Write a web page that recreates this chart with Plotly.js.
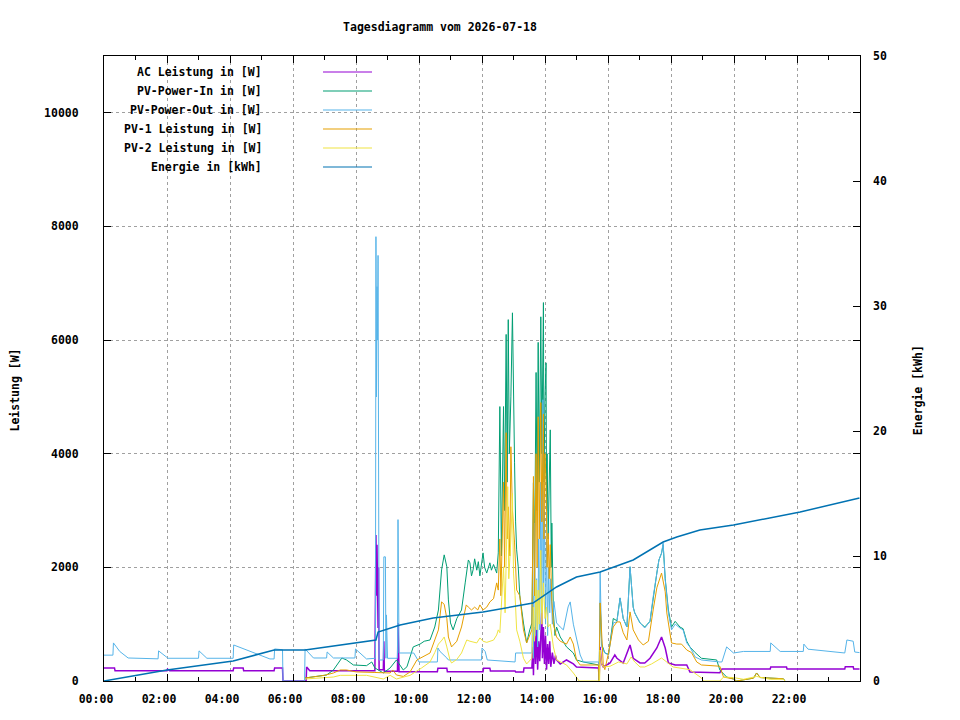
<!DOCTYPE html>
<html>
<head>
<meta charset="utf-8">
<script src="https://cdn.plot.ly/plotly-3.0.1.min.js"></script>
<style>
  body { margin: 0; background: #fff; }
  #chart { width: 960px; height: 720px; }
</style>
</head>
<body>
<div id="chart"></div>
<script>
var day = "2026-07-18";

var xTickLabels = ["00:00", "02:00", "04:00", "06:00", "08:00", "10:00",
                   "12:00", "14:00", "16:00", "18:00", "20:00", "22:00"];
var leftTicks = [0, 2000, 4000, 6000, 8000, 10000];
var rightTicks = [0, 10, 20, 30, 40, 50];

var seriesNames = ["AC Leistung in [W]", "PV-Power-In in [W]", "PV-Power-Out in [W]",
                   "PV-1 Leistung in [W]", "PV-2 Leistung in [W]", "Energie in [kWh]"];
var seriesColors = ["#9400d3", "#009e73", "#56b4e9", "#e69f00", "#f0e442", "#0072b2"];

// AC Leistung [W]
var acTimes = ["00:00","00:20","00:21","02:00","02:01","02:05","04:06","04:07","04:25","04:26",
               "05:24","05:25","05:40","05:41","06:25","06:26","06:32","08:36","08:38","08:39",
               "08:40","08:42","08:43","08:44","08:52","08:53","08:54","09:19","09:20","09:21",
               "09:22","10:35","10:36","10:53","10:54","12:02","12:03","12:15","12:16","13:03",
               "13:04","13:19","13:20","13:35","13:37","13:38","13:40","13:42","13:44","13:46",
               "13:48","13:50","13:52","13:54","13:55","13:57","13:59","14:01","14:03","14:05",
               "14:07","14:09","14:11","14:14","14:17","14:20","14:22","14:29","14:41","14:54",
               "15:00","15:42","15:43","15:45","15:48","15:51","16:04","16:13","16:17","16:29",
               "16:42","16:48","17:01","17:10","17:20","17:33","17:42","17:49","17:55","18:08",
               "18:30","18:36","19:33","19:37","21:09","21:10","21:40","21:41","23:31","23:32",
               "23:47","23:48","23:59"];
var acValues = [230,230,181,181,210,181,181,230,230,181,
                181,230,230,0,0,247,181,181,2570,1500,
                2400,934,2000,200,200,700,170,170,1022,600,
                165,165,225,225,165,165,225,225,176,176,
                160,160,230,230,600,100,950,300,900,200,
                700,350,1000,1250,400,950,300,800,200,650,
                300,700,250,500,300,450,370,300,370,300,
                247,230,0,600,300,247,317,458,400,317,
                634,400,317,317,400,581,775,581,317,282,
                282,160,146,211,211,247,247,211,211,252,
                252,211,211];

// PV-Power-In [W]
var pvInTimes = ["06:23","06:50","07:04","07:17","07:33","07:42","07:55","08:20","08:30","08:36",
                 "08:52","09:05","09:17","09:30","09:37","09:49","10:02","10:10","10:21","10:30",
                 "10:37","10:43","10:48","10:53","10:56","11:00","11:05","11:12","11:21","11:28",
                 "11:34","11:37","11:40","11:43","11:46","11:50","11:53","11:56","12:02","12:05",
                 "12:09","12:15","12:18","12:22","12:28","12:31","12:34","12:37","12:41","12:43",
                 "12:46","12:48","12:50","12:52","12:55","12:58","13:00","13:02","13:04","13:06",
                 "13:09","13:12","13:19","13:25","13:31","13:35","13:38","13:40","13:43","13:45",
                 "13:47","13:49","13:52","13:54","13:57","13:58","14:00","14:02","14:03","14:04",
                 "14:06","14:08","14:10","14:12","14:13","14:16","14:19","14:22","14:29","14:41",
                 "14:54","15:00","15:13","15:42","15:43","15:45","15:48","15:54","16:01","16:10",
                 "16:17","16:23","16:29","16:36","16:42","16:48","16:51","17:01","17:10","17:20",
                 "17:26","17:33","17:37","17:42","17:45","17:49","17:55","18:01","18:08","18:17",
                 "18:23","18:30","18:36","18:46","18:58","19:27","19:33","19:46","19:59","20:05",
                 "20:37","20:43","20:50","21:09","21:34","21:37"];
var pvInValues = [53,80,106,194,405,370,282,270,335,230,
                  141,230,370,194,250,600,650,700,722,951,
                  1250,1956,2220,2010,1427,1022,900,1100,1250,1727,
                  2130,2080,1850,1956,2150,1950,2100,1850,2255,2000,
                  1900,2080,1950,2050,1900,2255,4830,2200,4830,3000,
                  6100,3500,6360,4000,5000,6480,4500,3840,2800,2308,
                  2010,1500,1020,670,900,1020,3490,2000,5430,3000,
                  5960,3500,6410,4000,6660,3500,5000,5600,3000,4000,
                  2500,3500,4420,2000,2780,1200,800,950,775,600,
                  493,370,335,282,0,1374,650,493,470,1100,
                  1060,1462,1100,951,2010,1300,1198,1022,950,1050,
                  1480,1900,2130,2250,2400,1800,1250,950,1050,950,
                  920,700,600,500,400,370,194,70,35,0,
                  50,141,60,50,40,0];

// PV-Power-Out [W]
var pvOutTimes = ["00:00","00:17","00:18","00:30","00:46","01:43","01:44","02:02","03:00","03:01",
                  "03:16","04:06","04:07","04:32","05:16","05:24","05:25","05:40","05:41","06:22",
                  "06:23","06:39","07:04","07:05","07:17","07:58","07:59","08:20","08:37","08:38",
                  "08:39","08:40","08:41","08:42","08:43","08:44","08:52","08:53","08:56","08:57",
                  "08:58","09:00","09:19","09:20","09:21","09:22","09:50","10:00","10:35","10:36",
                  "10:40","10:48","10:53","10:56","11:59","12:00","12:06","12:10","13:03","13:04",
                  "13:35","13:37","13:38","13:40","13:42","13:44","13:46","13:48","13:50","13:52",
                  "13:54","13:56","13:57","13:59","14:01","14:03","14:05","14:07","14:09","14:11",
                  "14:14","14:17","14:22","14:29","14:35","14:44","14:48","14:54","15:00","15:07",
                  "15:13","15:42","15:43","15:45","15:48","15:54","16:01","16:10","16:17","16:23",
                  "16:29","16:36","16:42","16:48","16:51","17:01","17:10","17:20","17:26","17:33",
                  "17:37","17:42","17:45","17:49","17:55","18:01","18:08","18:17","18:23","18:30",
                  "18:36","18:46","18:58","19:33","19:37","19:46","19:59","20:18","21:09","21:10",
                  "21:28","22:12","22:13","22:21","23:09","23:31","23:35","23:47","23:50","23:59"];
var pvOutValues = [455,455,670,520,405,390,530,400,400,530,
                   400,400,634,546,388,388,564,550,0,0,
                   564,405,405,511,405,405,564,388,400,7820,
                   5000,6940,6000,7490,3950,370,370,2185,2185,400,
                   1163,400,400,2840,1690,493,493,335,335,581,
                   520,458,405,370,370,581,520,370,335,493,
                   493,1500,400,2780,800,1800,600,2500,900,3500,
                   1200,4950,1500,3000,1000,2500,800,2000,1200,1800,
                   1000,1400,1022,950,900,1304,1392,1000,722,458,
                   335,335,0,1920,600,493,460,1022,1040,1462,
                   1100,951,2010,1300,1198,1022,933,1050,1480,1900,
                   2130,2250,2430,1780,1198,900,1000,933,900,670,
                   600,423,370,335,335,600,493,520,520,670,
                   520,520,650,560,510,493,722,700,510,500];

// PV-1 Leistung [W]
var pv1Times = ["06:23","07:00","07:17","07:30","07:42","08:00","08:36","09:05","09:10","09:17",
                "09:30","09:43","09:56","10:21","10:30","10:37","10:43","10:48","10:53","10:56",
                "11:02","11:12","11:21","11:30","11:34","11:40","11:46","11:52","11:56","12:02",
                "12:09","12:15","12:22","12:28","12:31","12:34","12:36","12:41","12:43","12:46",
                "12:48","12:50","12:53","12:55","12:58","13:02","13:06","13:12","13:19","13:25",
                "13:35","13:38","13:40","13:43","13:45","13:47","13:49","13:52","13:54","13:57",
                "13:58","14:00","14:02","14:04","14:06","14:08","14:10","14:13","14:16","14:22",
                "14:29","14:41","14:48","14:54","15:00","15:07","15:42","15:43","15:45","15:48",
                "15:51","15:54","16:01","16:10","16:17","16:23","16:29","16:36","16:42","16:48",
                "16:58","17:07","17:17","17:26","17:33","17:42","17:49","17:52","18:01","18:11",
                "18:20","18:30","18:39","18:49","18:58","19:33","19:40","19:59","20:05","20:37",
                "20:43","20:50","21:34","21:37"];
var pv1Values = [53,100,141,194,194,160,150,141,194,106,
                 80,160,370,493,722,900,1392,1350,1100,775,
                 600,700,951,1339,1300,1250,1300,1250,1339,1250,
                 1300,1392,1450,1727,1600,2500,1500,3500,2000,4370,
                 2500,3066,2200,4123,3000,2430,1603,1500,900,670,
                 900,3600,1500,4000,2000,4650,2500,4900,2800,4700,
                 2500,4000,3500,2000,2600,1800,2400,1400,1000,775,
                 700,650,775,650,370,282,282,0,1374,722,
                 280,200,493,951,1040,1040,850,722,1216,900,
                 722,634,700,1250,1640,1900,1570,1198,670,650,
                 650,546,500,335,282,260,70,35,0,50,
                 141,60,40,0];

// PV-2 Leistung [W]
var pv2Times = ["06:23","07:17","07:30","08:20","08:52","09:05","09:17","09:43","10:05","10:21",
                "10:30","10:37","10:44","10:48","10:53","10:59","11:02","11:12","11:21","11:31",
                "11:37","11:43","11:50","11:56","12:02","12:09","12:15","12:22","12:28","12:31",
                "12:34","12:41","12:44","12:49","12:51","12:55","12:58","13:00","13:03","13:06",
                "13:12","13:19","13:25","13:35","13:38","13:40","13:43","13:45","13:47","13:49",
                "13:52","13:54","13:57","14:00","14:03","14:06","14:10","14:16","14:22","14:41",
                "14:54","15:05","15:44","15:45","15:48","15:51","16:04","16:20","16:36","16:44",
                "16:51","17:01","17:10","17:23","17:42","17:52","18:04","18:36","18:49","18:58",
                "19:02","19:33","19:40","19:59","20:18","20:43","21:09","21:34","21:37"];
var pv2Values = [35,70,100,100,35,100,35,100,230,335,
                 500,650,722,775,600,370,317,380,493,722,
                 700,680,670,758,700,680,700,720,810,900,
                 850,2010,1200,3420,1800,2500,3300,1900,1500,900,
                 700,400,300,400,1300,700,1780,900,1600,1000,
                 2300,1000,1727,1100,1300,950,1000,600,370,282,
                 141,0,0,546,300,247,260,335,300,423,
                 335,247,247,300,405,335,247,200,106,53,
                 0,0,70,60,30,80,30,30,0];

// Energie [kWh]
var energyTimes = ["00:00","02:00","04:06","05:24","06:23","07:04","08:38","08:42","09:24","10:27",
                   "12:02","13:37","14:22","15:00","15:45","16:48","17:45","18:11","18:55","19:59",
                   "22:06","23:59"];
var energyValues = [0,0.88,1.6,2.48,2.48,2.72,3.28,3.92,4.48,5.04,
                    5.52,6.24,7.52,8.32,8.72,9.68,11.12,11.52,12.08,12.48,
                    13.52,14.64];

function toDate(t) {
  return day + " " + t + ":00";
}

function makeTrace(times, values, idx, width, onRight) {
  var trace = {
    x: times.map(toDate),
    y: values,
    type: 'scatter',
    mode: 'lines',
    name: seriesNames[idx],
    line: { color: seriesColors[idx], width: width },
    hoverinfo: 'skip'
  };
  if (onRight) {
    trace.yaxis = 'y2';
  }
  return trace;
}

var data = [
  makeTrace(acTimes, acValues, 0, 1.5, false),
  makeTrace(pvInTimes, pvInValues, 1, 1, false),
  makeTrace(pvOutTimes, pvOutValues, 2, 1, false),
  makeTrace(pv1Times, pv1Values, 3, 1, false),
  makeTrace(pv2Times, pv2Values, 4, 1, false),
  makeTrace(energyTimes, energyValues, 5, 1.5, true)
];

var font = { family: "DejaVu Sans Mono", size: 11.5, color: "#000", weight: "bold" };

// gnuplot style key: text right-aligned, sample line on the right
var shapes = [{
  type: 'rect', xref: 'paper', yref: 'paper',
  x0: 0.002, x1: 0.366, y0: 0.802, y1: 0.998,
  fillcolor: '#fff', line: { width: 0 }, layer: 'between'
}];
var annotations = [];
for (var i = 0; i < seriesNames.length; i++) {
  var rowY = 1 - (16 + i * 19) / 625;
  annotations.push({
    xref: 'paper', yref: 'paper', x: 0.211, y: rowY,
    xanchor: 'right', yanchor: 'middle', showarrow: false,
    text: seriesNames[i], font: font
  });
  shapes.push({
    type: 'line', xref: 'paper', yref: 'paper',
    x0: 0.2897, x1: 0.3545, y0: rowY, y1: rowY,
    line: { color: seriesColors[i], width: 1.2 }
  });
}

annotations.push({
  xref: 'paper', yref: 'paper', x: -0.118, y: 0.466, textangle: -90,
  xanchor: 'center', yanchor: 'middle', showarrow: false,
  text: 'Leistung [W]', font: font
});
annotations.push({
  xref: 'paper', yref: 'paper', x: 1.076, y: 0.466, textangle: -90,
  xanchor: 'center', yanchor: 'middle', showarrow: false,
  text: 'Energie [kWh]', font: font
});

var layout = {
  width: 960,
  height: 720,
  margin: { l: 104, r: 100, t: 56, b: 39 },
  paper_bgcolor: '#fff',
  plot_bgcolor: '#fff',
  showlegend: false,
  font: font,
  title: {
    text: 'Tagesdiagramm vom ' + day,
    font: font,
    x: 440 / 960, xref: 'container', xanchor: 'center',
    y: 1 - 27 / 720, yref: 'container', yanchor: 'middle'
  },
  xaxis: {
    type: 'date',
    range: [toDate("00:00"), "2026-07-19 00:00:00"],
    tickmode: 'array',
    tickvals: xTickLabels.map(toDate),
    ticktext: xTickLabels,
    ticks: 'inside', ticklen: 7, tickcolor: '#000',
    ticklabelstandoff: 7,
    ticklabelshift: -8,
    minor: { tickmode: 'linear', tick0: toDate("00:00"), dtick: 3600000,
             ticks: 'inside', ticklen: 4, tickcolor: '#000', showgrid: false },
    showgrid: true, gridcolor: '#a0a0a0', griddash: '3px,3px', gridwidth: 1,
    showline: true, linecolor: '#000', linewidth: 1, mirror: 'ticks',
    zeroline: false, fixedrange: true
  },
  yaxis: {
    range: [0, 11000],
    tickmode: 'array',
    tickvals: leftTicks,
    ticktext: leftTicks.map(String),
    ticks: 'inside', ticklen: 7, tickcolor: '#000',
    ticklabelstandoff: 22,
    showgrid: true, gridcolor: '#a0a0a0', griddash: '3px,3px', gridwidth: 1,
    showline: true, linecolor: '#000', linewidth: 1, mirror: 'ticks',
    zeroline: false, fixedrange: true
  },
  yaxis2: {
    overlaying: 'y',
    side: 'right',
    range: [0, 50],
    tickmode: 'array',
    tickvals: rightTicks,
    ticktext: rightTicks.map(String),
    ticks: 'inside', ticklen: 7, tickcolor: '#000',
    ticklabelstandoff: 12,
    showgrid: false,
    showline: false,
    zeroline: false, fixedrange: true
  },
  shapes: shapes,
  annotations: annotations
};

Plotly.newPlot('chart', data, layout, { staticPlot: true });
</script>
</body>
</html>
